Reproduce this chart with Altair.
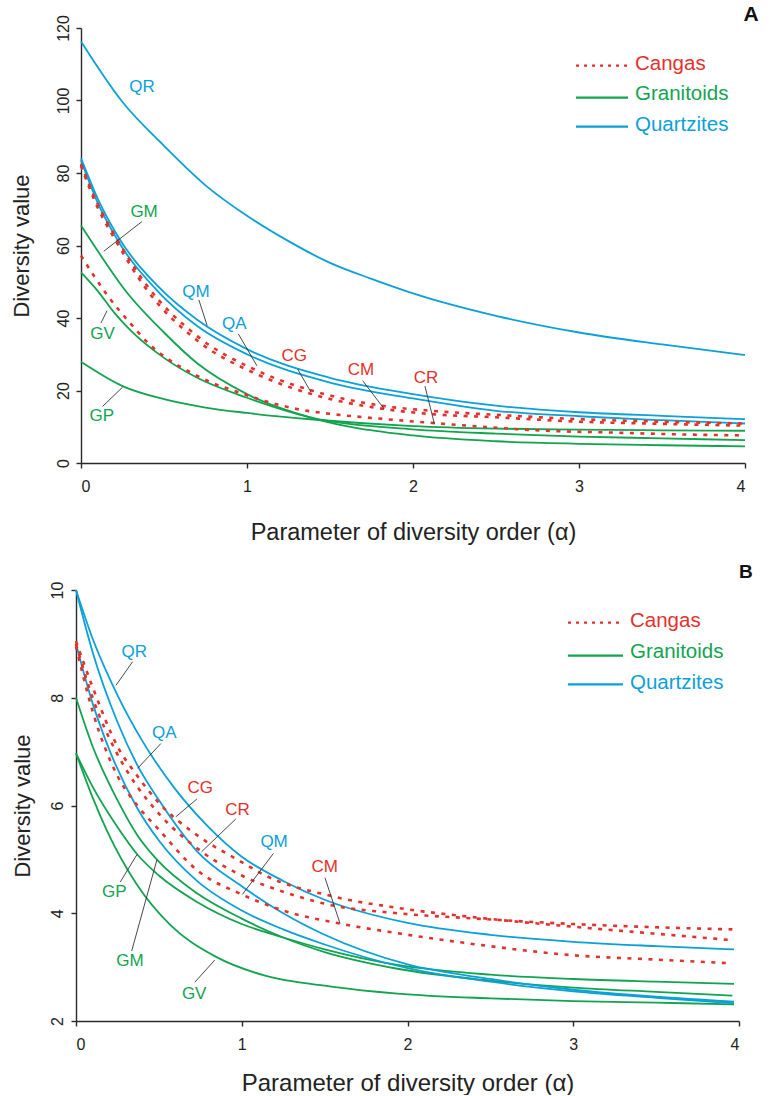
import altair as alt
import pandas as pd

RED = "#E3312B"
GREEN = "#11A44F"
BLUE = "#0AA0D8"
FONT = "Liberation Sans"
AXC = "#2a2a2a"

GROUPS = ["Cangas", "Granitoids", "Quartzites"]
COLORS = [RED, GREEN, BLUE]

# ---------------- Panel A data ----------------
A_QR_X = [0, 0.25, 0.5, 0.75, 1.0, 1.25, 1.5, 1.75, 2.0, 2.5, 3.0, 3.5, 4.0]
A_QR_Y = [116.3, 99.6, 87.5, 76.6, 68.2, 61.2, 55.2, 50.8, 46.8, 40.6, 36.0, 32.7, 29.8]
A_QM_X = [0, 0.1, 0.22, 0.46, 0.7, 1.0, 1.5, 2.0, 2.5, 3.0, 3.5, 4.0]
A_QM_Y = [84.1, 73.0, 62.7, 48.9, 39.5, 31.4, 23.5, 19.0, 15.8, 14.0, 13.0, 12.1]
A_QA_X = [0, 0.1, 0.22, 0.46, 0.7, 1.0, 1.5, 2.0, 2.5, 3.0, 3.5, 4.0]
A_QA_Y = [83.5, 71.8, 61.5, 47.5, 37.8, 30.0, 22.2, 17.8, 14.4, 12.9, 11.8, 10.9]
A_CG_X = [0, 0.1, 0.21, 0.39, 0.7, 1.06, 1.39, 1.81, 2.11, 2.5, 3.0, 3.5, 4.0]
A_CG_Y = [82.5, 71.5, 62.3, 49.4, 35.0, 25.5, 20.0, 15.8, 14.4, 13.3, 12.1, 11.4, 10.9]
A_CM_X = [0, 0.1, 0.21, 0.39, 0.7, 1.06, 1.39, 1.81, 2.11, 2.5, 3.0, 3.5, 4.0]
A_CM_Y = [82.0, 70.5, 61.3, 48.2, 33.8, 24.5, 19.0, 15.0, 13.5, 12.6, 11.4, 10.8, 10.3]
A_CR_X = [0, 0.16, 0.3, 0.42, 0.54, 0.66, 0.78, 0.95, 1.1, 1.3, 1.51, 1.71, 1.91, 2.13, 2.39, 2.8, 3.2, 3.6, 4.0]
A_CR_Y = [57.2, 46.2, 38.4, 32.4, 28.2, 25.0, 22.3, 19.5, 17.2, 14.9, 13.5, 12.6, 11.8, 11.0, 10.1, 8.9, 8.4, 7.9, 7.6]
A_GM_X = [0, 0.13, 0.26, 0.5, 0.7, 1.0, 1.4, 2.0, 2.5, 3.0, 3.5, 4.0]
A_GM_Y = [65.5, 56.5, 48.0, 36.0, 27.5, 19.0, 12.3, 7.6, 6.0, 5.3, 4.9, 4.6]
A_GV_X = [0, 0.1, 0.2, 0.3, 0.5, 0.7, 1.0, 1.4, 2.0, 2.5, 3.0, 3.5, 4.0]
A_GV_Y = [52.6, 47.5, 41.5, 36.5, 29.0, 23.5, 18.0, 12.4, 9.3, 8.1, 7.3, 6.8, 6.3]
A_GP_X = [0, 0.25, 0.5, 0.75, 1.0, 1.4, 2.0, 2.5, 3.0, 3.5, 4.0]
A_GP_Y = [27.9, 21.2, 17.6, 15.3, 13.8, 12.0, 10.2, 9.5, 9.2, 9.0, 8.9]

# ---------------- Panel B data ----------------
B_QR_X = [0, 0.1, 0.25, 0.4, 0.6, 0.8, 1.0, 1.25, 1.5, 2.0, 2.5, 3.0, 3.5, 3.97]
B_QR_Y = [10.0, 9.1, 8.05, 7.2, 6.3, 5.6, 5.05, 4.6, 4.25, 3.82, 3.6, 3.47, 3.39, 3.33]
B_QA_X = [0, 0.1, 0.25, 0.37, 0.5, 0.73, 1.0, 1.25, 1.5, 2.0, 2.5, 3.0, 3.5, 3.97]
B_QA_Y = [10.0, 8.85, 7.55, 6.75, 6.1, 5.15, 4.5, 4.0, 3.6, 3.05, 2.78, 2.58, 2.45, 2.36]
B_QM_X = [0, 0.1, 0.18, 0.37, 0.5, 0.73, 1.0, 1.25, 1.5, 2.0, 2.5, 3.0, 3.5, 3.97]
B_QM_Y = [9.0, 7.9, 7.2, 5.95, 5.35, 4.6, 4.05, 3.7, 3.42, 2.98, 2.73, 2.55, 2.43, 2.33]
B_CG_X = [0, 0.1, 0.25, 0.37, 0.5, 0.73, 1.0, 1.13, 1.54, 1.94, 2.42, 3.0, 3.5, 3.96]
B_CG_Y = [9.05, 8.2, 7.1, 6.55, 6.05, 5.45, 4.95, 4.72, 4.32, 4.1, 3.92, 3.75, 3.62, 3.5]
B_CR_X = [0, 0.1, 0.25, 0.37, 0.5, 0.76, 1.0, 1.25, 1.54, 1.94, 2.42, 3.0, 3.5, 3.96]
B_CR_Y = [9.0, 8.0, 6.95, 6.35, 5.85, 5.14, 4.7, 4.4, 4.15, 4.0, 3.9, 3.8, 3.74, 3.70]
B_CM_X = [0, 0.1, 0.25, 0.37, 0.5, 0.73, 1.0, 1.25, 1.59, 1.94, 2.42, 3.0, 3.5, 3.96]
B_CM_Y = [8.95, 7.75, 6.55, 6.0, 5.55, 4.8, 4.35, 4.05, 3.81, 3.63, 3.42, 3.22, 3.14, 3.07]
B_GM_X = [0, 0.1, 0.25, 0.37, 0.49, 0.73, 1.0, 1.25, 1.5, 1.94, 2.5, 3.0, 3.5, 3.96]
B_GM_Y = [8.0, 7.1, 6.1, 5.45, 4.99, 4.37, 3.9, 3.55, 3.28, 2.97, 2.75, 2.62, 2.54, 2.47]
B_GP_X = [0, 0.1, 0.25, 0.37, 0.5, 0.73, 1.0, 1.25, 1.5, 1.94, 2.5, 3.0, 3.5, 3.97]
B_GP_Y = [6.97, 6.35, 5.6, 5.09, 4.7, 4.21, 3.8, 3.55, 3.33, 3.04, 2.86, 2.78, 2.73, 2.69]
B_GV_X = [0, 0.1, 0.19, 0.37, 0.57, 0.84, 1.13, 1.54, 1.94, 2.5, 3.0, 3.5, 3.97]
B_GV_Y = [6.97, 6.15, 5.51, 4.52, 3.78, 3.2, 2.85, 2.64, 2.51, 2.42, 2.37, 2.34, 2.31]

SERIES_A = [
    ("GP", "Granitoids", A_GP_X, A_GP_Y),
    ("GV", "Granitoids", A_GV_X, A_GV_Y),
    ("GM", "Granitoids", A_GM_X, A_GM_Y),
    ("QR", "Quartzites", A_QR_X, A_QR_Y),
    ("QM", "Quartzites", A_QM_X, A_QM_Y),
    ("QA", "Quartzites", A_QA_X, A_QA_Y),
    ("CG", "Cangas", A_CG_X, A_CG_Y),
    ("CM", "Cangas", A_CM_X, A_CM_Y),
    ("CR", "Cangas", A_CR_X, A_CR_Y),
]
SERIES_B = [
    ("GP", "Granitoids", B_GP_X, B_GP_Y),
    ("GV", "Granitoids", B_GV_X, B_GV_Y),
    ("GM", "Granitoids", B_GM_X, B_GM_Y),
    ("QR", "Quartzites", B_QR_X, B_QR_Y),
    ("QM", "Quartzites", B_QM_X, B_QM_Y),
    ("QA", "Quartzites", B_QA_X, B_QA_Y),
    ("CG", "Cangas", B_CG_X, B_CG_Y),
    ("CM", "Cangas", B_CM_X, B_CM_Y),
    ("CR", "Cangas", B_CR_X, B_CR_Y),
]

# labels: text, group, label x, label y, leader from (x1,y1) to (x2,y2)
LABELS_A = [
    ("QR", "Quartzites", 0.367, 103.7, None),
    ("GM", "Granitoids", 0.38, 69.2, (0.367, 66.6, 0.137, 58.4)),
    ("GV", "Granitoids", 0.13, 35.6, (0.12, 38.6, 0.157, 42.0)),
    ("GP", "Granitoids", 0.125, 13.1, (0.13, 15.6, 0.25, 20.9)),
    ("QM", "Quartzites", 0.693, 47.1, (0.71, 45.0, 0.76, 37.9)),
    ("QA", "Quartzites", 0.924, 38.4, (0.948, 35.6, 1.06, 26.8)),
    ("CG", "Cangas", 1.285, 29.4, (1.305, 25.9, 1.386, 19.5)),
    ("CM", "Cangas", 1.687, 25.7, (1.697, 22.7, 1.827, 14.9)),
    ("CR", "Cangas", 2.078, 23.5, (2.072, 21.2, 2.129, 10.8)),
]
LABELS_B = [
    ("QR", "Quartzites", 0.352, 8.85, (0.342, 8.67, 0.241, 8.23)),
    ("QA", "Quartzites", 0.533, 7.34, (0.512, 7.15, 0.372, 6.69)),
    ("CG", "Cangas", 0.749, 6.32, (0.729, 6.12, 0.602, 5.79)),
    ("CR", "Cangas", 0.974, 5.91, (0.964, 5.75, 0.757, 5.14)),
    ("QM", "Quartzites", 1.195, 5.33, (1.191, 5.11, 1.004, 4.35)),
    ("CM", "Cangas", 1.5, 4.86, (1.502, 4.66, 1.593, 3.81)),
    ("GP", "Granitoids", 0.231, 4.39, (0.267, 4.58, 0.368, 5.09)),
    ("GM", "Granitoids", 0.325, 3.11, (0.336, 3.30, 0.488, 4.99)),
    ("GV", "Granitoids", 0.713, 2.50, (0.717, 2.72, 0.837, 3.13)),
]

color_scale = alt.Scale(domain=GROUPS, range=COLORS)


def series_df(series):
    rows = []
    for name, group, xs, ys in series:
        for i, (x, y) in enumerate(zip(xs, ys)):
            rows.append({"alpha": x, "value": y, "series": name, "group": group, "i": i})
    return pd.DataFrame(rows)


def labels_df(labels):
    rows = []
    for text, group, x, y, lead in labels:
        r = {"text": text, "group": group, "x": x, "y": y}
        if lead:
            r.update({"lx1": lead[0], "ly1": lead[1], "lx2": lead[2], "ly2": lead[3]})
        rows.append(r)
    return pd.DataFrame(rows)


def panel(series, labels, ydom, yticks, width, height, xrange, yoff, ylabpad, ytitlepad,
          xlabpad, xtitlepad, xtitlesize, title, title_size, title_offset, legend_pos):
    df = series_df(series)
    ldf = labels_df(labels)
    xs = alt.Scale(domain=[0, 4], range=xrange, nice=False, zero=False)
    ys = alt.Scale(domain=ydom, nice=False, zero=False)
    xax = alt.Axis(values=[0, 1, 2, 3, 4], format="d", grid=False, tickSize=5,
                   labelPadding=xlabpad, titlePadding=xtitlepad, titleFontSize=xtitlesize,
                   title="Parameter of diversity order (\u03b1)")
    yax = alt.Axis(values=yticks, format="d", grid=False, tickSize=5, offset=yoff,
                   labelAngle=270, labelAlign="center", labelBaseline="bottom",
                   labelPadding=ylabpad, titlePadding=ytitlepad, title="Diversity value")
    layers = []
    for g in ["Granitoids", "Quartzites", "Cangas"]:
        sub = df[df["group"] == g]
        mk = alt.Chart(sub)
        if g == "Cangas":
            m = mk.mark_line(interpolate="monotone", strokeWidth=2.6, strokeDash=[4, 6.5], strokeCap="butt")
        else:
            m = mk.mark_line(interpolate="monotone", strokeWidth=1.8)
        layers.append(m.encode(
            x=alt.X("alpha:Q", scale=xs, axis=xax),
            y=alt.Y("value:Q", scale=ys, axis=yax),
            color=alt.Color("group:N", scale=color_scale, legend=None),
            detail="series:N",
            order="i:Q",
        ))
    lead = ldf.dropna(subset=["lx1"])
    layers.append(alt.Chart(lead).mark_rule(color="#333333", strokeWidth=0.9).encode(
        x=alt.X("lx1:Q", scale=xs), y=alt.Y("ly1:Q", scale=ys),
        x2="lx2:Q", y2="ly2:Q"))
    layers.append(alt.Chart(ldf).mark_text(font=FONT, fontSize=17, align="center", baseline="middle").encode(
        x=alt.X("x:Q", scale=xs), y=alt.Y("y:Q", scale=ys), text="text:N",
        color=alt.Color("group:N", scale=color_scale, legend=None)))
    # legend
    lx1, lx2, tx, rows = legend_pos
    for (g, c, ly, ty) in zip(GROUPS, COLORS, [r[0] for r in rows], [r[1] for r in rows]):
        base = alt.Chart(pd.DataFrame({"t": [g]}))
        if g == "Cangas":
            rule = base.mark_rule(color=c, strokeWidth=2.2, strokeDash=[3, 5])
        else:
            rule = base.mark_rule(color=c, strokeWidth=2.2)
        layers.append(rule.encode(x=alt.value(lx1), x2=alt.value(lx2), y=alt.value(ly)))
        layers.append(base.mark_text(font=FONT, fontSize=20.5, align="left", baseline="middle", color=c).encode(
            x=alt.value(tx), y=alt.value(ty), text="t:N"))
    return alt.layer(*layers).properties(
        width=width, height=height,
        title=alt.TitleParams(title, anchor="end", fontSize=title_size, fontWeight="bold", font=FONT,
                              color="#111111", dx=13.7, offset=title_offset, frame="group"),
    )


top = panel(SERIES_A, LABELS_A, [0, 120], [0, 20, 40, 60, 80, 100, 120], 669, 435, [5, 669], -5,
            5, 22, 10, 26, 23.5, "A", 21, -10,
            (500, 552, 559, [(37.7, 35.5), (69.7, 66.0), (98.7, 97.3)]))
bottom = panel(SERIES_B, LABELS_B, [2, 10], [2, 4, 6, 8, 10], 663, 431, [0, 663], 0,
               6, 15, 10, 19, 24, "B", 19, -1,
               (492, 547, 554, [(32.7, 31.4), (65.7, 61.5), (94.4, 92.5)]))

chart = alt.vconcat(top, bottom, spacing=19).properties(
    padding={"left": 10, "top": 3, "right": 0, "bottom": 0}
).configure_view(stroke=None).configure_axis(
    domainColor=AXC, tickColor=AXC, domainWidth=1.4, tickWidth=1.4,
    labelFont=FONT, titleFont=FONT, labelFontSize=16, titleFontSize=22,
    labelColor="#222222", titleColor="#222222", titleFontWeight="normal",
).configure_title(font=FONT)

chart.save("out.html", embed_options={"renderer": "svg", "actions": False})
